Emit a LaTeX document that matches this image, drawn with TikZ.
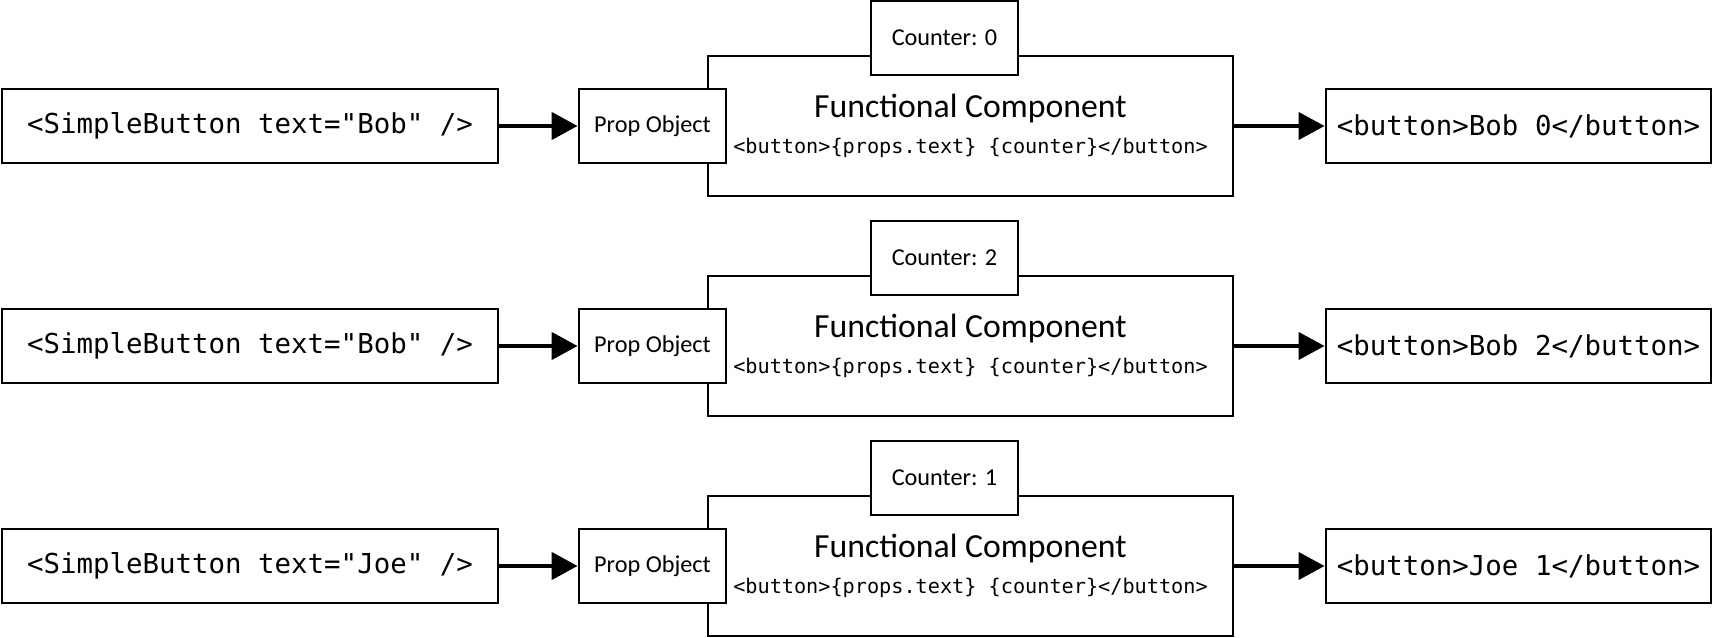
\documentclass[tikz,border=0pt]{standalone}
\usepackage{fontspec}
\setmainfont{Carlito}
\setmonofont{DejaVu Sans Mono}
\usetikzlibrary{arrows.meta, positioning, calc}

\begin{document}
\begin{tikzpicture}[
  jsxbox/.style={draw, fill=white, line width=0.8pt, inner sep=0pt, minimum height=0.74cm, font=\ttfamily\fontsize{7.8}{9}\selectfont},
  propbox/.style={draw, fill=white, line width=0.8pt, inner sep=0pt, minimum width=1.47cm, minimum height=0.74cm, font=\fontsize{6.9}{8}\selectfont},
  funcbox/.style={draw, line width=0.8pt, minimum width=5.25cm, minimum height=1.40cm},
  functitle/.style={anchor=base, inner sep=0pt, font=\fontsize{9.6}{11}\selectfont},
  funccode/.style={anchor=base, inner sep=0pt, font=\ttfamily\fontsize{5.75}{7}\selectfont},
  flow/.style={-{Triangle[length=7.4pt, width=7.7pt]}, line width=1.15pt}
]
  \useasboundingbox (0, 0) rectangle (17.14, 6.38);

  % Row 1: Bob, counter 0
  \node[funcbox] (func1) at (9.705, 5.12) {};
  \node[functitle] (title1) at (9.705, 5.20) {Functional Component};
  \node[funccode] (code1) at (9.705, 4.84) {<button>\{props.text\} \{counter\}</button>};
  \node[propbox] (prop1) at (6.525, 5.12) {Prop Object};
  \node[propbox] (count1) at (9.445, 6.00) {Counter: 0};
  \node[jsxbox, minimum width=4.96cm] (src1) at (2.50, 5.12) {<SimpleButton text="Bob" />};
  \node[jsxbox, minimum width=3.85cm] (out1) at (15.185, 5.12) {<button>Bob 0</button>};
  \draw[flow] (src1) -- (prop1);
  \draw[flow] (func1) -- (out1);

  % Row 2: Bob again, counter 2
  \node[funcbox] (func2) at (9.705, 2.92) {};
  \node[functitle] (title2) at (9.705, 3.00) {Functional Component};
  \node[funccode] (code2) at (9.705, 2.64) {<button>\{props.text\} \{counter\}</button>};
  \node[propbox] (prop2) at (6.525, 2.92) {Prop Object};
  \node[propbox] (count2) at (9.445, 3.80) {Counter: 2};
  \node[jsxbox, minimum width=4.96cm] (src2) at (2.50, 2.92) {<SimpleButton text="Bob" />};
  \node[jsxbox, minimum width=3.85cm] (out2) at (15.185, 2.92) {<button>Bob 2</button>};
  \draw[flow] (src2) -- (prop2);
  \draw[flow] (func2) -- (out2);

  % Row 3: Joe, counter 1
  \node[funcbox] (func3) at (9.705, 0.72) {};
  \node[functitle] (title3) at (9.705, 0.80) {Functional Component};
  \node[funccode] (code3) at (9.705, 0.44) {<button>\{props.text\} \{counter\}</button>};
  \node[propbox] (prop3) at (6.525, 0.72) {Prop Object};
  \node[propbox] (count3) at (9.445, 1.60) {Counter: 1};
  \node[jsxbox, minimum width=4.96cm] (src3) at (2.50, 0.72) {<SimpleButton text="Joe" />};
  \node[jsxbox, minimum width=3.85cm] (out3) at (15.185, 0.72) {<button>Joe 1</button>};
  \draw[flow] (src3) -- (prop3);
  \draw[flow] (func3) -- (out3);
\end{tikzpicture}
\end{document}
